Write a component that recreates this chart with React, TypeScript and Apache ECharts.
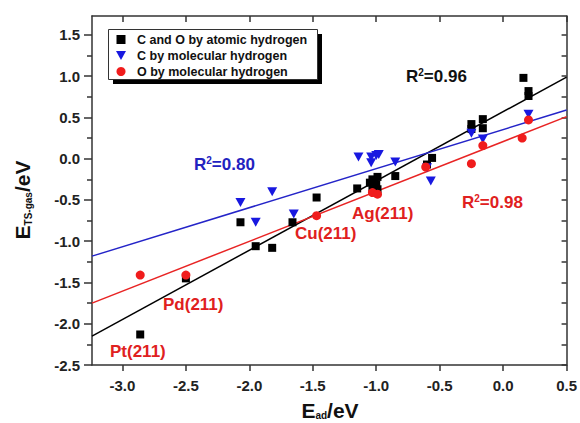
import React, { useEffect, useRef } from "react";
import * as echarts from "echarts";

const FONT = "'Liberation Sans', Arial, sans-serif";

// Tick values
const xTicks = [-3.0, -2.5, -2.0, -1.5, -1.0, -0.5, 0.0, 0.5];
const yTicks = [-2.5, -2.0, -1.5, -1.0, -0.5, 0.0, 0.5, 1.0, 1.5];
const yMinorTicks = [-2.25, -1.75, -1.25, -0.75, -0.25, 0.25, 0.75, 1.25];
const yAllTicks = [-2.5, -2.25, -2.0, -1.75, -1.5, -1.25, -1.0, -0.75, -0.5, -0.25, 0.0, 0.25, 0.5, 0.75, 1.0, 1.25, 1.5];

const seriesNames = [
  "C and O by atomic hydrogen",
  "C by molecular hydrogen",
  "O by molecular hydrogen",
];

// C and O by atomic hydrogen (black squares)
const atomicH: number[][] = [
  [-2.86, -2.13], [-2.5, -1.45], [-2.07, -0.77], [-1.95, -1.06], [-1.82, -1.08],
  [-1.66, -0.77], [-1.47, -0.47], [-1.15, -0.36], [-1.03, -0.25], [-0.99, -0.22],
  [-1.05, -0.29], [-1.0, -0.31], [-1.03, -0.35], [-0.99, -0.37], [-0.85, -0.21],
  [-0.6, -0.07], [-0.56, 0.01], [-0.25, 0.42], [-0.25, 0.36], [-0.16, 0.48],
  [-0.16, 0.37], [0.16, 0.98], [0.2, 0.82], [0.2, 0.76],
];

// C by molecular hydrogen (blue down triangles)
const cMolH: number[][] = [
  [-2.07, -0.53], [-1.95, -0.77], [-1.82, -0.4], [-1.65, -0.67], [-1.14, 0.02],
  [-1.04, 0.02], [-1.04, -0.05], [-1.0, 0.04], [-0.98, 0.05], [-0.85, -0.04],
  [-0.6, -0.11], [-0.57, -0.27], [-0.25, 0.31], [-0.16, 0.24], [0.2, 0.54],
];

// O by molecular hydrogen (red circles)
const oMolH: number[][] = [
  [-2.86, -1.41], [-2.5, -1.41], [-1.47, -0.69], [-1.03, -0.41], [-0.99, -0.43],
  [-0.61, -0.1], [-0.25, -0.06], [-0.16, 0.16], [0.15, 0.25], [0.2, 0.47],
];

// Linear fits (end points)
const fitAtomic: number[][] = [[-3.24, -2.15], [0.5, 0.99]];
const fitC: number[][] = [[-3.24, -1.18], [0.5, 0.59]];
const fitO: number[][] = [[-3.24, -1.75], [0.5, 0.51]];

const BLACK = "#000000";
const BLUE = "#1818e0";
const RED = "#f01c1c";
const BLUE_LINE = "#2424c8";
const RED_LINE = "#e82424";
const BLUE_TEXT = "#2222c0";
const RED_TEXT = "#e02020";

const SQUARE = "path://M0,0H10V10H0Z";
const TRI_DOWN = "path://M0,0H10L5,9Z";

function r2Text(value: string, color: string, left: number, top: number) {
  return {
    type: "text",
    left,
    top,
    z: 10,
    style: {
      text: "{a|R}{s|2}{a|=" + value + "}",
      rich: {
        a: { fontSize: 17, fontWeight: "bold", fontFamily: FONT, fill: color, lineHeight: 18 },
        s: { fontSize: 10, fontWeight: "bold", fontFamily: FONT, fill: color, lineHeight: 10, verticalAlign: "top" },
      },
    },
  };
}

function metalText(txt: string, left: number, top: number) {
  return {
    type: "text",
    left,
    top,
    z: 10,
    style: { text: txt, fontSize: 17, fontWeight: "bold", fontFamily: FONT, fill: RED_TEXT },
  };
}

export default function App() {
  const ref = useRef<HTMLDivElement>(null);
  useEffect(() => {
    if (!ref.current) return;
    const chart = echarts.init(ref.current, null, { renderer: "svg" });
    const axisLineStyle = { color: "#333", width: 1.5 };
    const labelStyle = { fontSize: 15, fontWeight: "bold", fontFamily: FONT, color: "#222" };
    const titleRich = {
      E: { fontSize: 21, fontWeight: "bold", fontFamily: FONT, fill: "#111", lineHeight: 21, verticalAlign: "top" },
      sub: { fontSize: 10, fontWeight: "bold", fontFamily: FONT, fill: "#111", lineHeight: 10, verticalAlign: "bottom", padding: [18, 0, 0, 0] },
    };
    const titleRichX = {
      E: { fontSize: 21, fontWeight: "bold", fontFamily: FONT, fill: "#111", lineHeight: 21, verticalAlign: "top" },
      sub: { fontSize: 10, fontWeight: "bold", fontFamily: FONT, fill: "#111", lineHeight: 10, verticalAlign: "bottom", padding: [15, 0, 0, 0] },
    };
    chart.setOption({
      animation: false,
      backgroundColor: "#fff",
      grid: { left: 92, right: 13, top: 16, bottom: 58, containLabel: false },
      legend: {
        data: seriesNames,
        orient: "vertical",
        left: 108,
        top: 29,
        padding: [4, 8, 5, 8],
        itemGap: 3,
        itemWidth: 22,
        itemHeight: 9,
        z: 20,
        backgroundColor: "transparent",
        borderWidth: 0,
        textStyle: { fontSize: 12.5, fontWeight: "bold", fontFamily: FONT, color: "#111" },
      },
      xAxis: [
        {
          type: "value",
          position: "bottom",
          min: -3.24,
          max: 0.5,
          axisLine: { show: true, onZero: false, lineStyle: axisLineStyle },
          axisTick: { show: true, inside: false, length: 6, customValues: xTicks, lineStyle: axisLineStyle },
          axisLabel: { ...labelStyle, margin: 13, customValues: xTicks, formatter: (v: number) => v.toFixed(1) },
          splitLine: { show: false },
        },
        {
          type: "value",
          position: "top",
          min: -3.24,
          max: 0.5,
          axisLine: { show: true, onZero: false, lineStyle: axisLineStyle },
          axisTick: { show: true, inside: true, length: 6, customValues: xTicks, lineStyle: axisLineStyle },
          axisLabel: { show: false },
          splitLine: { show: false },
        },
      ],
      yAxis: [
        {
          type: "value",
          position: "left",
          min: -2.5,
          max: 1.73,
          axisLine: { show: true, onZero: false, lineStyle: axisLineStyle },
          axisTick: { show: true, inside: false, length: 8, customValues: yTicks, lineStyle: axisLineStyle },
          axisLabel: { ...labelStyle, margin: 12, customValues: yTicks, formatter: (v: number) => v.toFixed(1) },
          splitLine: { show: false },
        },
        {
          type: "value",
          position: "left",
          min: -2.5,
          max: 1.73,
          axisLine: { show: false, onZero: false },
          axisTick: { show: true, inside: false, length: 5, customValues: yMinorTicks, lineStyle: axisLineStyle },
          axisLabel: { show: false },
          splitLine: { show: false },
        },
        {
          type: "value",
          position: "right",
          min: -2.5,
          max: 1.73,
          axisLine: { show: true, onZero: false, lineStyle: axisLineStyle },
          axisTick: { show: true, inside: true, length: 5, customValues: yAllTicks, lineStyle: axisLineStyle },
          axisLabel: { show: false },
          splitLine: { show: false },
        },
      ],
      series: [
        {
          type: "line", data: fitAtomic, showSymbol: false, symbol: "none", z: 1,
          lineStyle: { color: BLACK, width: 1.5 }, silent: true,
        },
        {
          type: "line", data: fitC, showSymbol: false, symbol: "none", z: 1,
          lineStyle: { color: BLUE_LINE, width: 1.5 }, silent: true,
        },
        {
          type: "line", data: fitO, showSymbol: false, symbol: "none", z: 1,
          lineStyle: { color: RED_LINE, width: 1.5 }, silent: true,
        },
        {
          name: seriesNames[0], type: "scatter", data: atomicH, symbol: SQUARE, symbolSize: 8, z: 3,
          itemStyle: { color: BLACK, opacity: 1 },
        },
        {
          name: seriesNames[1], type: "scatter", data: cMolH, symbol: TRI_DOWN, symbolSize: [10, 9], z: 3,
          itemStyle: { color: BLUE, opacity: 1 },
        },
        {
          name: seriesNames[2], type: "scatter", data: oMolH, symbol: "circle", symbolSize: 9, z: 3,
          itemStyle: { color: RED, opacity: 1 },
        },
      ],
      graphic: [
        {
          type: "rect",
          left: 113,
          top: 34,
          z: 5,
          shape: { width: 209, height: 50 },
          style: { fill: "#000" },
        },
        {
          type: "rect",
          left: 108,
          top: 29,
          z: 6,
          shape: { width: 209, height: 50 },
          style: { fill: "#fff", stroke: "#333", lineWidth: 1 },
        },
        r2Text("0.96", "#111", 406, 67),
        r2Text("0.80", BLUE_TEXT, 194, 155),
        r2Text("0.98", RED_TEXT, 462, 193),
        metalText("Ag(211)", 352, 205),
        metalText("Cu(211)", 295, 225),
        metalText("Pd(211)", 163, 296),
        metalText("Pt(211)", 110, 343),
        {
          type: "text",
          x: 22.5,
          y: 200,
          rotation: Math.PI / 2,
          style: {
            text: "{E|E}{sub|TS-gas}{E|/eV}",
            align: "center",
            verticalAlign: "middle",
            rich: titleRich,
          },
        },
        {
          type: "text",
          x: 330,
          y: 410,
          style: {
            text: "{E|E}{sub|ad}{E|/eV}",
            align: "center",
            verticalAlign: "middle",
            rich: titleRichX,
          },
        },
      ],
    });
    return () => chart.dispose();
  }, []);
  return <div ref={ref} style={{ width: 580, height: 423, position: "absolute", left: 0, top: 0 }} />;
}
